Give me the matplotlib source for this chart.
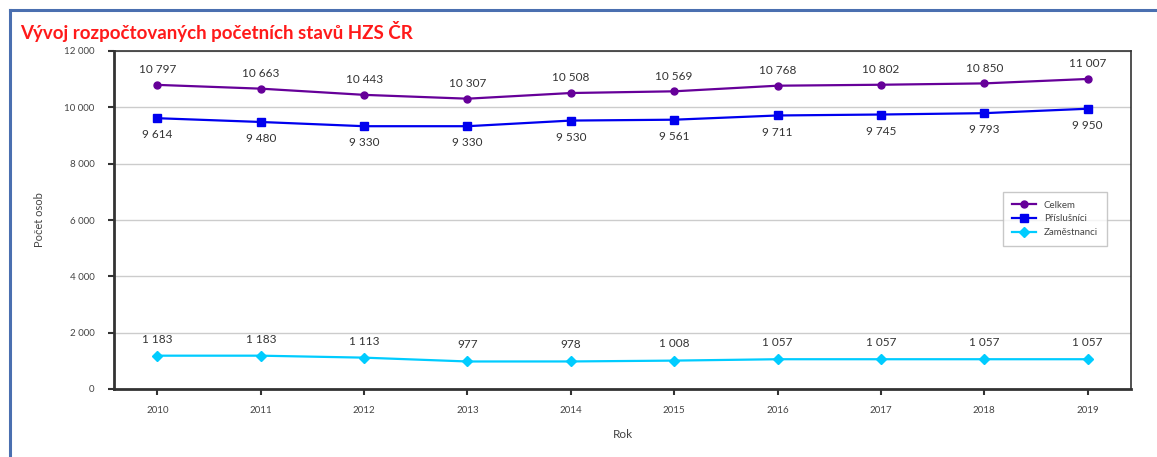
import matplotlib
matplotlib.use("Agg")
import matplotlib.pyplot as plt
from matplotlib.lines import Line2D

years = [2010, 2011, 2012, 2013, 2014, 2015, 2016, 2017, 2018, 2019]
celkem = [10797, 10663, 10443, 10307, 10508, 10569, 10768, 10802, 10850, 11007]
prislusnici = [9614, 9480, 9330, 9330, 9530, 9561, 9711, 9745, 9793, 9950]
zamestnanci = [1183, 1183, 1113, 977, 978, 1008, 1057, 1057, 1057, 1057]
series_names = ["Celkem", "Příslušníci", "Zaměstnanci"]
yticks = [0, 2000, 4000, 6000, 8000, 10000, 12000]

def fmt(v):
    return f"{v:,}".replace(",", " ")

plt.rcParams['font.family'] = ['Lato', 'DejaVu Sans']

fig = plt.figure(figsize=(11.57, 4.57), dpi=100)
fig.patch.set_facecolor("white")

# outer frame (top and left blue lines)
fig.add_artist(Line2D([10/1157, 1], [1 - 10/457, 1 - 10/457], color="#4a6fb0", lw=2.2))
fig.add_artist(Line2D([10/1157, 10/1157], [0, 1 - 10/457], color="#4a6fb0", lw=2.2))

fig.text(20/1157, 1 - 32/457, "Vývoj rozpočtovaných početních stavů HZS ČR",
         color="#ff1a1a", fontsize=13.5, fontweight="bold", va="center", ha="left")

ax = fig.add_axes([114/1157, 1 - 389/457, (1131-114)/1157, (389-51)/457])

colors = ["#660099", "#0000ee", "#00ccff"]
markers = ["o", "s", "D"]
msizes = [5, 5.5, 5]
datas = [celkem, prislusnici, zamestnanci]
for d, c, m, ms, name in zip(datas, colors, markers, msizes, series_names):
    ax.plot(years, d, color=c, marker=m, markersize=ms, lw=1.6, label=name, zorder=3)

for x, v in zip(years, celkem):
    ax.annotate(fmt(v), (x, v), xytext=(0, 7), textcoords="offset points",
                ha="center", va="bottom", fontsize=8.5, color="#333333")
for x, v in zip(years, prislusnici):
    ax.annotate(fmt(v), (x, v), xytext=(0, -8), textcoords="offset points",
                ha="center", va="top", fontsize=8.5, color="#333333")
for x, v in zip(years, zamestnanci):
    ax.annotate(fmt(v), (x, v), xytext=(0, 8), textcoords="offset points",
                ha="center", va="bottom", fontsize=8.5, color="#333333")

ax.set_xlim(2009.58, 2019.42)
ax.set_ylim(0, 12000)
ax.set_yticks(yticks)
ax.set_yticklabels([fmt(t) for t in yticks], fontsize=7, color="#444444")
ax.set_xticks(years)
ax.set_xticklabels([str(y) for y in years], fontsize=7, color="#444444")
ax.grid(axis="y", color="#cccccc", lw=1)
ax.set_axisbelow(True)
for s in ax.spines.values():
    s.set_color("#333333")
    s.set_linewidth(1.2)
ax.spines["left"].set_linewidth(2)
ax.spines["bottom"].set_linewidth(2)
ax.tick_params(axis="both", direction="out", length=4, width=1.5, color="#333333")
ax.tick_params(axis="x", pad=8)
ax.tick_params(axis="y", pad=10)

ax.set_ylabel("Počet osob", fontsize=8, color="#444444", labelpad=14)
ax.set_xlabel("Rok", fontsize=8.5, color="#444444", labelpad=10)

leg = ax.legend(loc="upper left", bbox_to_anchor=((998-114)/1017, 1 - (187-51)/338),
                fontsize=7, frameon=True, fancybox=False, edgecolor="#bbbbbb",
                handlelength=2.5, labelspacing=0.5, borderpad=0.9)
for t in leg.get_texts():
    t.set_color("#444444")

fig.savefig("out.png", dpi=100, facecolor="white")
